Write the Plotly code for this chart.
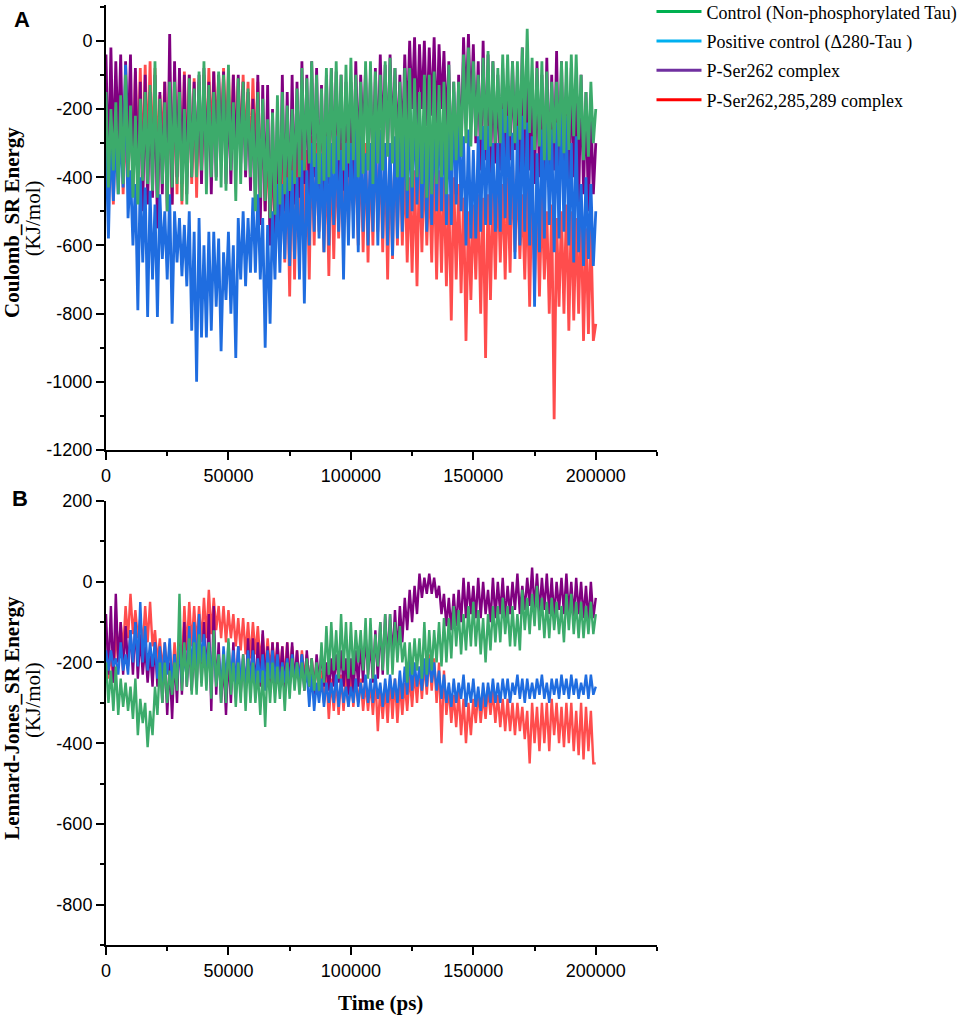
# Coulomb and Lennard-Jones short-range energies over the MD run, two stacked panels.
import plotly.graph_objects as go

TIME = list(range(0, 200001, 1000))

NAMES = ["Control (Non-phosphorylated Tau)", "Positive control (\u0394280-Tau )",
         "P-Ser262 complex", "P-Ser262,285,289 complex"]
LINE_COLORS = ["#3cab6b", "#1f6de0", "#800080", "#ff4d4d"]
LEGEND_COLORS = ["#00b050", "#00b0f0", "#7030a0", "#ff0000"]

# Each noisy trace is read off the picture as the top and bottom of its band:
# *_hi at t = 0, 2000, ... 200000 ps, *_lo at t = 1000, 3000, ... 199000 ps.

# ---- panel A: Coulomb_SR energy (KJ/mol) ----
coul_control_hi = [
    -150, -200, -180, -160, -100, -190, -220, -170, -150, -130,
    -60, -170, -180, -120, -120, -150, -200, -110, -140, -90,
    -60, -130, -150, -90, -100, -70, -180, -110, -120, -140,
    -200, -150, -170, -230, -210, -160, -150, -190, -200, -140,
    -80, -110, -60, -100, -140, -80, -80, -60, -100, -70,
    -50, -100, -120, -60, -60, -90, -100, -60, -50, -80,
    -120, -80, -80, -110, -150, -100, -100, -90, -130, -120,
    -70, -120, -120, -40, -20, -60, -100, -50, -30, -60,
    -80, -40, -40, -60, -60, -20, 35, -50, -80, -60,
    -90, -120, -120, -60, -60, -40, -40, -100, -150, -120,
    -200]
coul_control_lo = [
    -430, -380, -450, -420, -400, -460, -480, -410, -420, -440,
    -460, -420, -500, -430, -420, -470, -480, -400, -400, -380,
    -450, -400, -410, -430, -440, -380, -470, -420, -380, -400,
    -500, -460, -470, -520, -510, -480, -450, -440, -420, -400,
    -380, -360, -370, -420, -410, -400, -390, -350, -380, -360,
    -350, -400, -390, -380, -420, -360, -380, -340, -360, -400,
    -400, -440, -430, -400, -420, -460, -450, -420, -400, -450,
    -380, -350, -340, -300, -310, -280, -290, -320, -310, -300,
    -300, -270, -280, -300, -290, -260, -270, -320, -310, -350,
    -350, -300, -310, -330, -320, -280, -290, -350, -340, -300]

coul_positive_hi = [
    -300, -260, -280, -250, -70, -380, -420, -400, -430, -440,
    -480, -450, -500, -450, -500, -520, -540, -500, -560, -520,
    -600, -560, -560, -580, -620, -560, -600, -520, -500, -520,
    -460, -450, -520, -540, -500, -420, -420, -400, -380, -400,
    -350, -380, -300, -330, -330, -280, -300, -280, -320, -300,
    -300, -250, -250, -330, -300, -260, -260, -300, -300, -280,
    -280, -200, -200, -160, -200, -240, -200, -180, -180, -220,
    -220, -150, -180, -280, -260, -320, -280, -250, -250, -300,
    -300, -200, -220, -270, -250, -220, -240, -280, -330, -260,
    -200, -260, -240, -180, -220, -300, -280, -420, -400, -420,
    -500]
coul_positive_lo = [
    -580, -470, -450, -430, -520, -600, -790, -650, -810, -700,
    -810, -640, -700, -830, -650, -690, -720, -850, -1000, -870,
    -870, -850, -780, -910, -760, -800, -930, -700, -720, -680,
    -680, -700, -900, -830, -700, -680, -640, -660, -640, -700,
    -770, -600, -560, -580, -620, -600, -540, -560, -700, -600,
    -580, -620, -560, -600, -560, -600, -580, -600, -630, -580,
    -560, -520, -500, -480, -520, -560, -540, -500, -500, -540,
    -540, -480, -500, -600, -580, -580, -560, -540, -540, -560,
    -560, -520, -540, -640, -600, -560, -600, -780, -620, -580,
    -540, -620, -580, -560, -600, -650, -620, -660, -640, -660]

coul_ser262_hi = [
    -40, -20, -60, -40, -60, -40, -80, -120, -100, -150,
    -100, -150, -120, 20, -60, -80, -100, -100, -120, -100,
    -80, -120, -90, -100, -90, -140, -100, -100, -120, -150,
    -170, -100, -130, -130, -200, -200, -100, -150, -100, -120,
    -60, -100, -60, -80, -130, -100, -80, -90, -100, -120,
    -120, -60, -100, -80, -100, -80, -40, -70, -40, -80,
    -100, -40, 0, 10, -10, 0, -20, 10, -10, -30,
    -60, -120, -100, 10, 20, -10, -60, 0, -40, -60,
    -100, -80, -150, -60, -100, -20, -80, -120, -60, -100,
    -50, -100, -30, -60, -120, -80, -150, -100, -150, -200,
    -300]
coul_ser262_lo = [
    -400, -350, -300, -380, -300, -450, -420, -500, -480, -460,
    -550, -450, -500, -480, -400, -420, -450, -400, -380, -420,
    -380, -450, -400, -350, -420, -420, -380, -360, -400, -440,
    -480, -540, -500, -600, -580, -560, -500, -520, -480, -460,
    -420, -460, -400, -440, -450, -420, -380, -420, -440, -400,
    -420, -360, -300, -350, -380, -350, -300, -330, -300, -320,
    -320, -250, -200, -260, -200, -250, -220, -280, -200, -260,
    -420, -450, -340, -200, -220, -300, -380, -350, -400, -360,
    -380, -400, -350, -320, -400, -440, -380, -420, -400, -440,
    -400, -380, -450, -420, -450, -400, -480, -450, -500, -450]

coul_ser3_hi = [
    -200, -180, -250, -200, -250, -150, -90, -80, -70, -60,
    -80, -160, -120, -90, -100, -100, -90, -100, -110, -120,
    -100, -80, -90, -100, -80, -90, -100, -110, -100, -120,
    -110, -120, -250, -300, -300, -350, -330, -350, -300, -320,
    -250, -320, -280, -300, -350, -330, -300, -320, -300, -300,
    -280, -350, -300, -300, -320, -250, -320, -300, -320, -300,
    -280, -350, -400, -380, -350, -340, -380, -350, -380, -400,
    -450, -400, -420, -460, -500, -480, -450, -460, -450, -420,
    -380, -420, -400, -350, -380, -450, -420, -400, -420, -450,
    -500, -480, -520, -500, -480, -500, -520, -500, -550, -540,
    -830]
coul_ser3_lo = [
    -430, -480, -400, -450, -420, -400, -380, -400, -350, -360,
    -350, -300, -420, -480, -450, -480, -400, -420, -460, -400,
    -350, -300, -280, -320, -300, -330, -340, -320, -330, -360,
    -350, -400, -500, -550, -600, -620, -650, -750, -700, -600,
    -550, -700, -600, -560, -620, -690, -640, -580, -600, -550,
    -500, -600, -620, -650, -600, -560, -620, -700, -640, -600,
    -600, -650, -680, -720, -620, -600, -650, -700, -680, -720,
    -820, -700, -740, -880, -760, -700, -800, -930, -760, -700,
    -650, -700, -680, -620, -640, -700, -780, -720, -750, -700,
    -800, -1110, -780, -800, -850, -820, -800, -880, -860, -880]

# ---- panel B: Lennard-Jones_SR energy (KJ/mol) ----
lj_control_hi = [
    -200, -220, -210, -240, -250, -260, -240, -290, -300, -320,
    -260, -200, -200, -220, -200, -30, -150, -140, -150, -130,
    -160, -150, -120, -180, -180, -140, -200, -200, -180, -190,
    -200, -220, -220, -200, -200, -210, -210, -200, -190, -200,
    -200, -190, -190, -200, -150, -110, -100, -120, -80, -100,
    -100, -120, -120, -90, -90, -130, -100, -80, -80, -100,
    -110, -150, -150, -140, -140, -100, -120, -120, -100, -90,
    -90, -60, -70, -80, -60, -50, -70, -90, -80, -60,
    -60, -40, -60, -60, -80, -20, -40, -30, -10, -40,
    -50, -40, -50, -60, -30, -30, -50, -50, -60, -50,
    -80]
lj_control_lo = [
    -300, -320, -330, -310, -320, -340, -380, -350, -410, -380,
    -330, -300, -300, -280, -270, -270, -260, -280, -280, -260,
    -270, -290, -260, -300, -300, -280, -310, -300, -320, -300,
    -300, -330, -360, -300, -300, -290, -320, -290, -270, -280,
    -270, -260, -270, -270, -250, -230, -220, -240, -220, -240,
    -230, -200, -220, -240, -240, -210, -220, -230, -230, -200,
    -200, -250, -230, -220, -240, -230, -220, -200, -210, -200,
    -190, -160, -180, -170, -160, -160, -180, -200, -170, -150,
    -150, -130, -160, -160, -170, -120, -130, -110, -120, -140,
    -140, -120, -130, -150, -120, -130, -140, -140, -130, -130]

lj_positive_hi = [
    -170, -170, -190, -150, -180, -120, -100, -50, -110, -150,
    -150, -160, -150, -140, -180, -160, -180, -110, -100, -80,
    -130, -150, -150, -180, -160, -150, -170, -160, -190, -170,
    -170, -190, -180, -170, -170, -180, -200, -190, -180, -200,
    -180, -220, -230, -250, -240, -250, -250, -230, -240, -260,
    -260, -240, -250, -230, -240, -230, -250, -240, -230, -240,
    -220, -210, -190, -200, -210, -190, -190, -200, -220, -230,
    -250, -240, -250, -230, -250, -240, -260, -250, -250, -240,
    -250, -240, -240, -250, -230, -240, -240, -250, -240, -230,
    -250, -240, -240, -230, -240, -230, -240, -250, -230, -230,
    -260]
lj_positive_lo = [
    -220, -210, -230, -220, -230, -200, -210, -200, -220, -210,
    -240, -250, -230, -260, -240, -250, -240, -230, -220, -200,
    -220, -240, -250, -270, -250, -240, -260, -250, -260, -250,
    -260, -250, -270, -240, -250, -260, -250, -260, -250, -240,
    -260, -310, -320, -300, -310, -300, -300, -310, -300, -310,
    -300, -310, -290, -300, -300, -290, -310, -300, -290, -300,
    -290, -280, -270, -260, -270, -260, -250, -270, -290, -300,
    -310, -300, -290, -310, -300, -310, -320, -310, -300, -300,
    -300, -290, -300, -280, -290, -300, -290, -290, -280, -290,
    -300, -280, -290, -280, -290, -280, -290, -280, -290, -280]

lj_ser262_hi = [
    -80, -60, -30, -100, -110, -120, -100, -130, -160, -170,
    -150, -170, -180, -200, -180, -120, -100, -150, -160, -110,
    -100, -80, -60, -150, -200, -180, -150, -160, -180, -140,
    -140, -150, -120, -160, -150, -150, -160, -150, -150, -170,
    -180, -170, -190, -180, -170, -200, -190, -180, -170, -190,
    -190, -170, -150, -130, -150, -120, -100, -80, -80, -70,
    -60, -40, -20, -10, 20, 10, 20, 10, -10, -30,
    -40, -30, -20, 10, 0, -10, 10, 0, -20, 10,
    0, 10, -10, 0, 20, -10, 10, 35, 20, 10,
    20, 10, 0, 10, 20, 0, 10, 0, -10, 0,
    -40]
lj_ser262_lo = [
    -230, -250, -200, -230, -210, -230, -240, -230, -250, -260,
    -260, -300, -330, -340, -300, -280, -260, -270, -260, -250,
    -250, -320, -280, -300, -330, -300, -270, -280, -280, -270,
    -270, -260, -250, -270, -260, -250, -270, -260, -250, -260,
    -270, -260, -280, -250, -260, -270, -260, -250, -260, -280,
    -280, -260, -250, -230, -250, -240, -230, -200, -190, -180,
    -150, -120, -100, -80, -40, -30, -30, -40, -80, -110,
    -120, -110, -100, -90, -80, -90, -90, -80, -100, -90,
    -80, -90, -80, -70, -80, -70, -60, -70, -80, -70,
    -80, -90, -70, -80, -80, -90, -80, -90, -100, -90]

lj_ser3_hi = [
    -200, -170, -120, -100, -60, -30, -70, -90, -60, -50,
    -120, -140, -150, -160, -150, -160, -60, -50, -60, -60,
    -40, -20, -40, -60, -60, -70, -80, -90, -90, -100,
    -100, -110, -130, -140, -150, -150, -160, -150, -160, -170,
    -170, -180, -190, -200, -220, -230, -240, -240, -230, -230,
    -220, -240, -240, -250, -250, -240, -260, -260, -240, -240,
    -250, -250, -230, -220, -210, -200, -180, -190, -200, -220,
    -260, -280, -270, -290, -300, -290, -270, -280, -260, -270,
    -280, -290, -290, -300, -300, -310, -320, -300, -310, -300,
    -300, -290, -300, -310, -300, -300, -320, -300, -310, -320,
    -450]
lj_ser3_lo = [
    -240, -250, -200, -170, -140, -130, -140, -160, -150, -160,
    -200, -220, -220, -250, -230, -220, -170, -160, -160, -150,
    -140, -130, -120, -140, -150, -140, -160, -170, -180, -190,
    -180, -200, -220, -220, -220, -230, -240, -230, -250, -250,
    -240, -260, -260, -280, -300, -340, -320, -330, -320, -310,
    -310, -300, -320, -320, -330, -370, -340, -350, -340, -350,
    -330, -320, -310, -300, -290, -280, -270, -300, -400, -330,
    -350, -360, -380, -400, -380, -350, -350, -340, -330, -350,
    -360, -370, -370, -380, -370, -390, -450, -400, -420, -400,
    -420, -380, -400, -410, -400, -420, -430, -440, -420, -450]

X_TICKS = [0, 50000, 100000, 150000, 200000]
X_TEXT = ["0", "50000", "100000", "150000", "200000"]
A_TICKS = [-1200, -1000, -800, -600, -400, -200, 0]
A_TEXT = ["-1200", "-1000", "-800", "-600", "-400", "-200", "0"]
B_TICKS = [-800, -600, -400, -200, 0, 200]
B_TEXT = ["-800", "-600", "-400", "-200", "0", "200"]


def band(hi, lo):
    # zip the top/bottom readings back into one time series
    vals = []
    for k, v in enumerate(hi):
        vals.append(v)
        if k < len(lo):
            vals.append(lo[k])
    return vals


panel_a = [band(coul_control_hi, coul_control_lo), band(coul_positive_hi, coul_positive_lo),
           band(coul_ser262_hi, coul_ser262_lo), band(coul_ser3_hi, coul_ser3_lo)]
panel_b = [band(lj_control_hi, lj_control_lo), band(lj_positive_hi, lj_positive_lo),
           band(lj_ser262_hi, lj_ser262_lo), band(lj_ser3_hi, lj_ser3_lo)]

draw_order = [3, 2, 1, 0]   # red at the back, green in front

fig = go.Figure()
for i in draw_order:
    fig.add_trace(go.Scatter(x=TIME, y=panel_a[i], mode="lines", showlegend=False,
                             line=dict(color=LINE_COLORS[i], width=2.8, simplify=False),
                             xaxis="x", yaxis="y"))
for i in draw_order:
    fig.add_trace(go.Scatter(x=TIME, y=panel_b[i], mode="lines", showlegend=False,
                             line=dict(color=LINE_COLORS[i], width=2.4, simplify=False),
                             xaxis="x2", yaxis="y2"))
# legend entries use their own (brighter) colours like the original figure
for i in range(4):
    fig.add_trace(go.Scatter(x=[None], y=[None], mode="lines", name=NAMES[i],
                             legendgroup=str(i), line=dict(color=LEGEND_COLORS[i], width=3),
                             xaxis="x", yaxis="y"))

tick_font = dict(family="Liberation Sans, Arial", size=18, color="black")
axis_style = dict(showline=True, linecolor="black", linewidth=2, ticks="outside",
                  ticklen=8, tickwidth=2, tickcolor="black", showgrid=False,
                  zeroline=False, tickfont=tick_font)
minor_style = dict(ticks="outside", ticklen=4, tickwidth=1.5, tickcolor="black", showgrid=False)

fig.update_layout(
    width=969, height=1017,
    margin=dict(l=106, r=312, t=5, b=72, autoexpand=False),
    plot_bgcolor="white", paper_bgcolor="white",
    xaxis=dict(domain=[0, 1], range=[0, 225000], anchor="y", tickvals=X_TICKS, ticktext=X_TEXT,
               minor=dict(dtick=25000, tick0=0, **minor_style), **axis_style),
    yaxis=dict(domain=[0.5266, 1], range=[-1200, 105], anchor="x", tickvals=A_TICKS, ticktext=A_TEXT,
               minor=dict(dtick=100, tick0=0, **minor_style), **axis_style),
    xaxis2=dict(domain=[0, 1], range=[0, 225000], anchor="y2", tickvals=X_TICKS, ticktext=X_TEXT,
                minor=dict(dtick=25000, tick0=0, **minor_style), **axis_style),
    yaxis2=dict(domain=[0, 0.4723], range=[-900, 200], anchor="x2", tickvals=B_TICKS, ticktext=B_TEXT,
                minor=dict(dtick=100, tick0=0, **minor_style), **axis_style),
    legend=dict(x=0.99, y=1.0124, xanchor="left", yanchor="top", bgcolor="rgba(0,0,0,0)",
                font=dict(family="Liberation Serif, Times New Roman", size=18, color="black"),
                traceorder="grouped", tracegroupgap=3, itemwidth=45),
)

serif = "Liberation Serif, Times New Roman"
notes = [
    dict(text="<b>A</b>", x=-0.152, y=0.985, font=dict(family="Liberation Sans", size=22)),
    dict(text="<b>B</b>", x=-0.156, y=0.4755, font=dict(family="Liberation Sans", size=22)),
    dict(text="<b>Coulomb_SR Energy</b>", x=-0.171, y=0.769, textangle=-90,
         font=dict(family=serif, size=21)),
    dict(text="(KJ/mol)", x=-0.1325, y=0.773, textangle=-90, font=dict(family=serif, size=21)),
    dict(text="<b>Lennard-Jones_SR Energy</b>", x=-0.171, y=0.2415, textangle=-90,
         font=dict(family=serif, size=21)),
    dict(text="(KJ/mol)", x=-0.1325, y=0.2606, textangle=-90, font=dict(family=serif, size=21)),
    dict(text="<b>Time (ps)</b>", x=0.499, y=-0.0617, font=dict(family=serif, size=21)),
]
for n in notes:
    n["font"]["color"] = "black"
    fig.add_annotation(xref="paper", yref="paper", showarrow=False,
                       xanchor="center", yanchor="middle", **n)

fig.write_html("out.html", config={"displayModeBar": False},
               post_script="document.body.style.margin='0px';")
